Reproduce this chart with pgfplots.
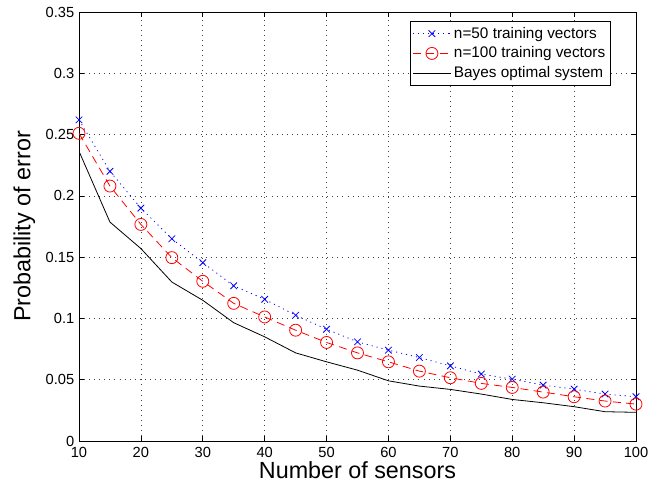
\documentclass[border=0pt]{standalone}
\usepackage{pgfplots}
\pgfplotsset{compat=1.18}
\usepackage{fontspec}
\setmainfont{Liberation Sans}

\begin{document}
\begin{tikzpicture}
\begin{axis}[
    scale only axis,
    width=417.75pt, height=321.75pt,
    xmin=10, xmax=100, ymin=0, ymax=0.35,
    xtick={10,20,...,100},
    ytick={0,0.05,...,0.35},
    yticklabels={0,0.05,0.1,0.15,0.2,0.25,0.3,0.35},
    tick align=inside,
    major tick length=4pt,
    grid=major,
    major grid style={dash pattern=on 0.6pt off 3.2pt, black!75, line width=0.5pt},
    axis line style={line width=0.6pt},
    tick style={line width=0.5pt, black},
    ticklabel style={font=\fontsize{11}{13}\selectfont},
    xticklabel style={yshift=-1pt},
    /pgf/number format/assume math mode=true,
    xlabel={Number of sensors},
    ylabel={Probability of error},
    label style={font=\fontsize{17.5}{20}\selectfont},
    xlabel style={yshift=4pt},
    ylabel style={yshift=1pt},
    legend image code/.code={\draw[mark repeat=2,mark phase=2,#1] plot coordinates {(0cm,0cm) (0.5cm,0cm) (1cm,0cm)};},
    legend style={at={(0.955,0.978)}, anchor=north east,
        font=\fontsize{11.5}{14}\selectfont, draw=black, line width=0.5pt,
        row sep=1pt, inner sep=2pt},
    legend cell align=left,
]
\addplot[blue, dash pattern=on 0.8pt off 3pt, line width=0.6pt, mark=x, mark size=3.5pt, mark options={solid}] coordinates {
(10,0.262) (15,0.220) (20,0.190) (25,0.165) (30,0.1455) (35,0.1266)
(40,0.1156) (45,0.1026) (50,0.0912) (55,0.0809) (60,0.0741) (65,0.0681)
(70,0.0613) (75,0.0546) (80,0.0505) (85,0.0456) (90,0.0423) (95,0.0383) (100,0.0361)
};
\addlegendentry{n=50 training vectors}
\addplot[red, dash pattern=on 6pt off 4pt, line width=0.6pt, mark=o, mark size=4.5pt, mark options={solid}] coordinates {
(10,0.251) (15,0.208) (20,0.1767) (25,0.1496) (30,0.1303) (35,0.1123)
(40,0.1012) (45,0.0904) (50,0.0804) (55,0.0719) (60,0.0646) (65,0.0570)
(70,0.0516) (75,0.0470) (80,0.0437) (85,0.0399) (90,0.0361) (95,0.0326) (100,0.0301)
};
\addlegendentry{n=100 training vectors}
\addplot[black, line width=0.6pt] coordinates {
(10,0.2364) (15,0.1786) (20,0.157) (25,0.1297) (30,0.1148) (35,0.0965)
(40,0.085) (45,0.0719) (50,0.0646) (55,0.0578) (60,0.0491) (65,0.0448)
(70,0.0421) (75,0.0383) (80,0.0339) (85,0.0312) (90,0.0280) (95,0.0239) (100,0.0234)
};
\addlegendentry{Bayes optimal system}
\end{axis}
\path[use as bounding box] ([shift={(-59.25pt,-35.25pt)}]current axis.south west) rectangle ([shift={(20.25pt,9pt)}]current axis.north east);
\end{tikzpicture}
\end{document}
